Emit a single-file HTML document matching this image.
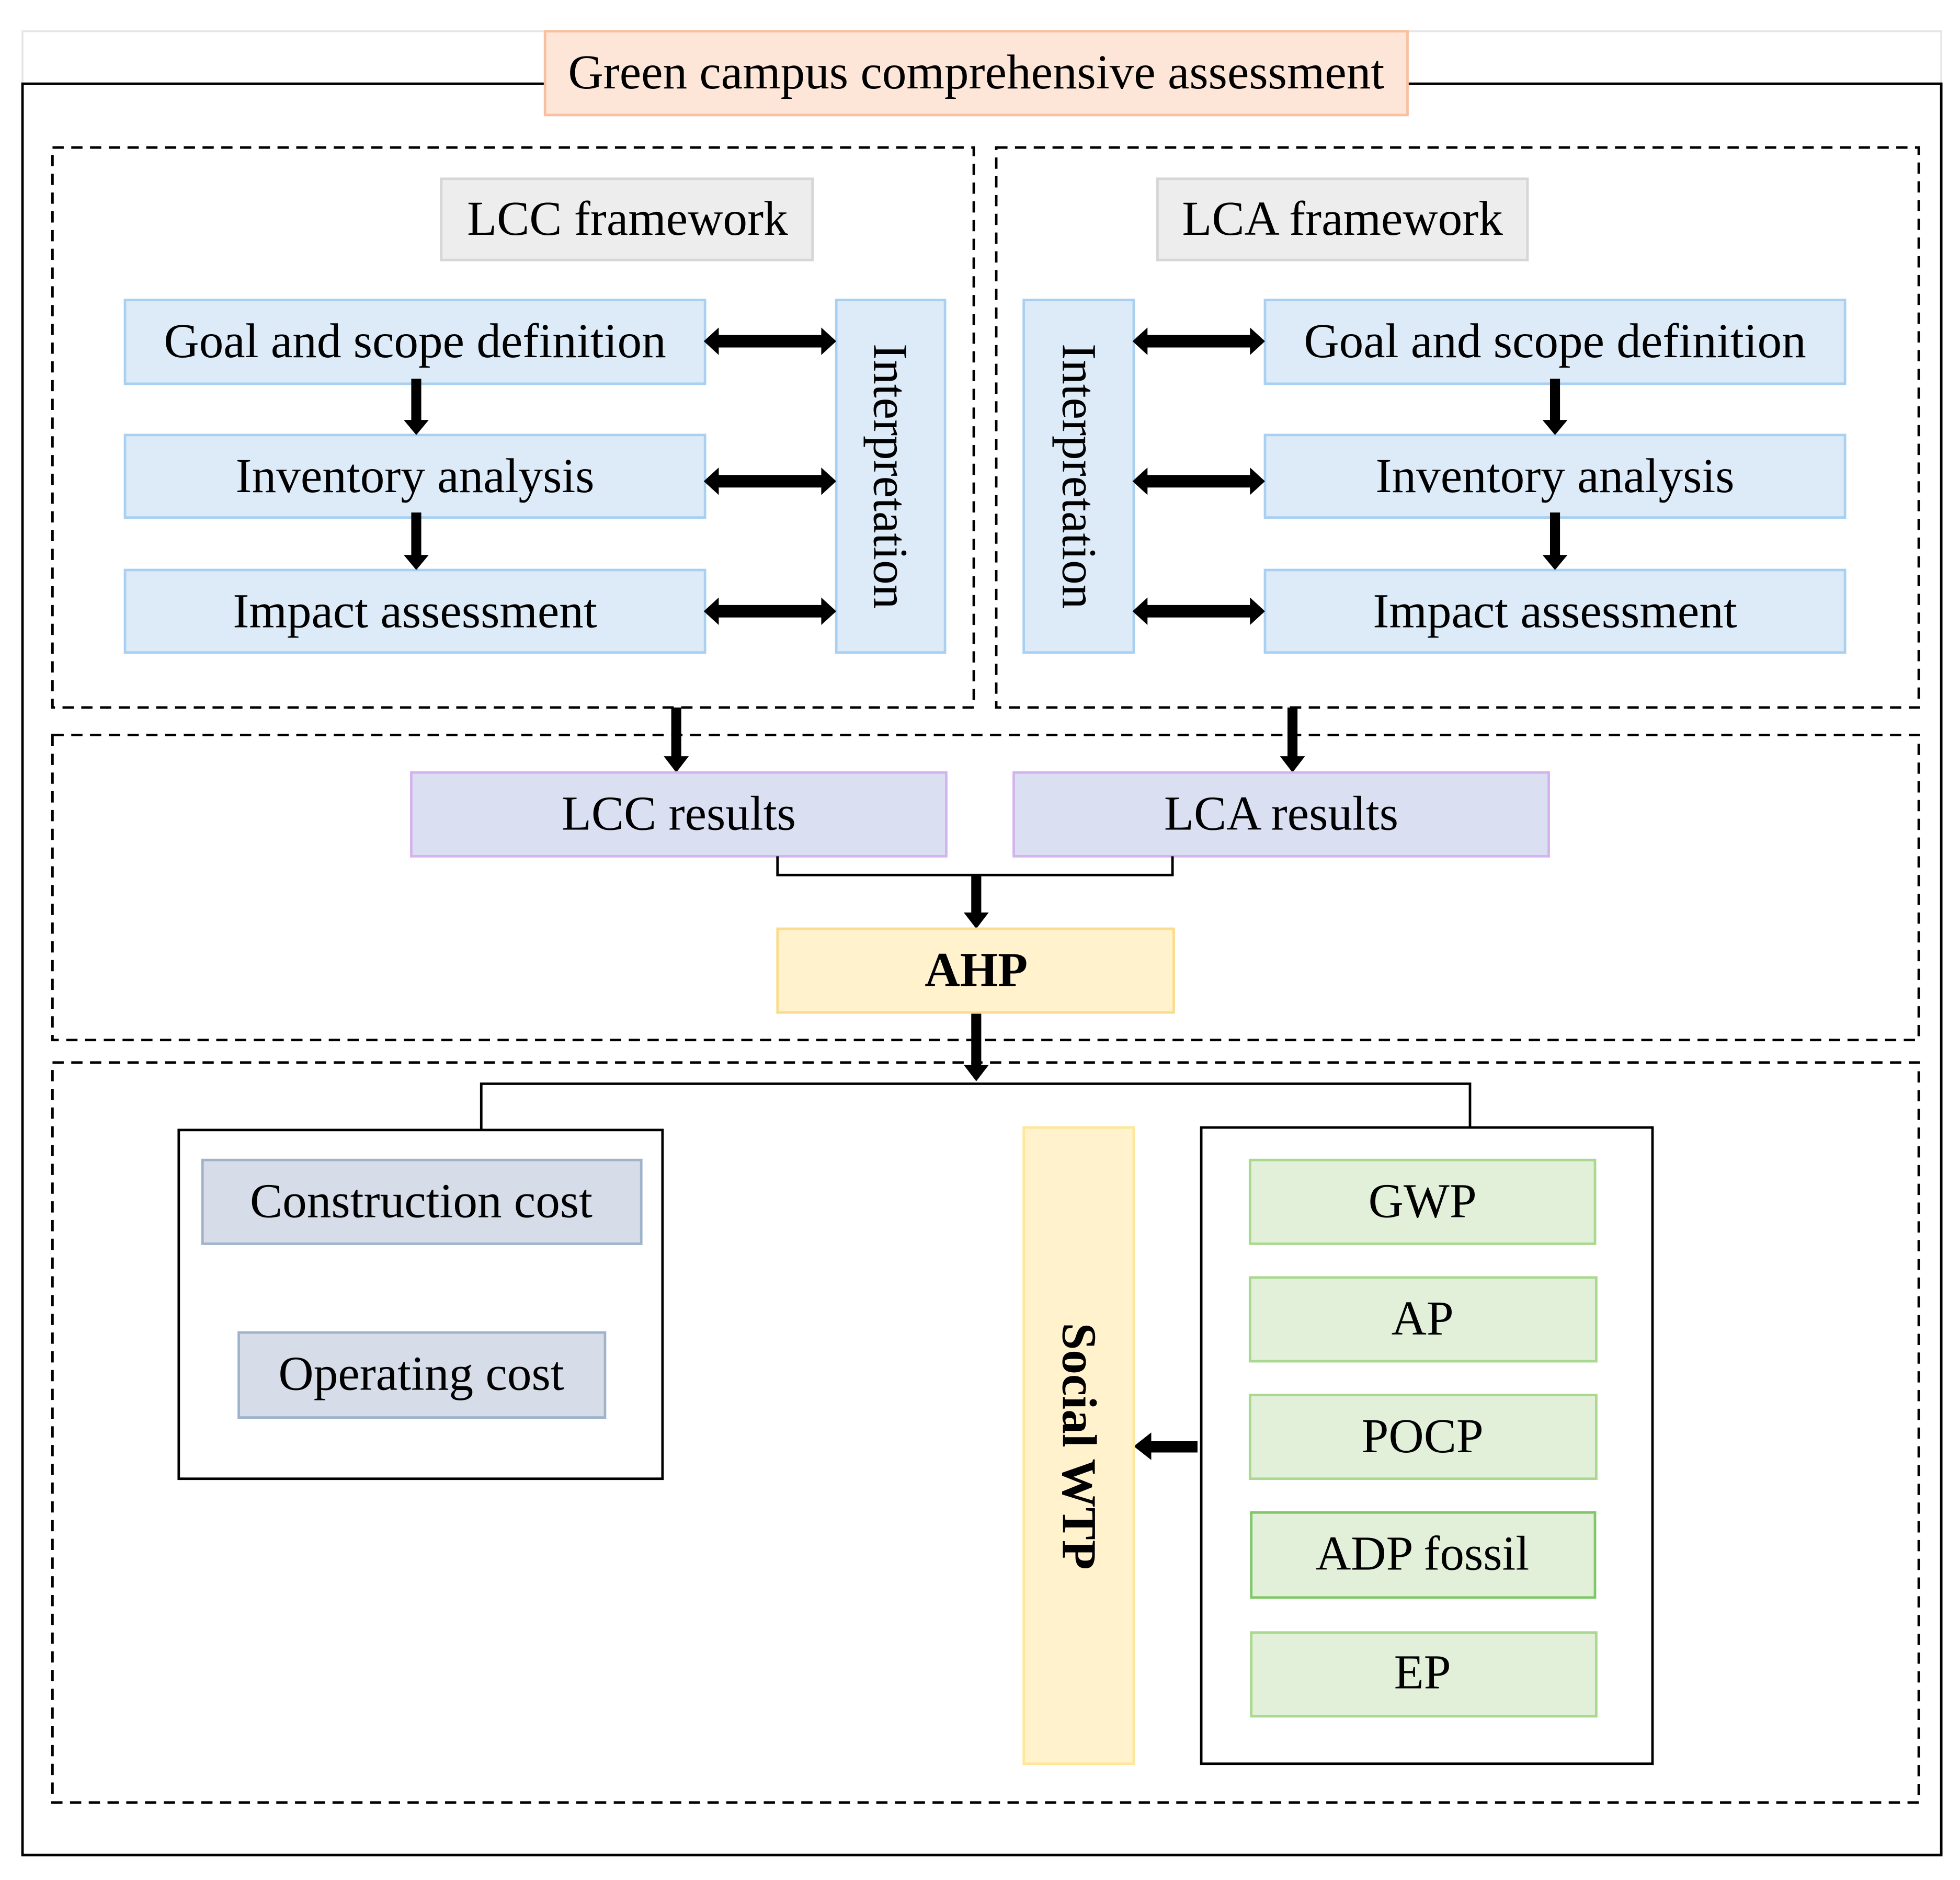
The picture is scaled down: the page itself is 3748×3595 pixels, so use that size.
<!DOCTYPE html>
<html><head><meta charset="utf-8"><style>html,body{margin:0;padding:0;background:#fff}svg{display:block}</style></head>
<body>
<svg width="3748" height="3595" viewBox="0 0 1568 1504" xmlns="http://www.w3.org/2000/svg" font-family="'Liberation Serif', serif" font-size="39" text-anchor="middle" dominant-baseline="central">
<rect width="1568" height="1504" fill="#fff"/>
<path d="M18,67 V25 H1553 V67" fill="none" stroke="#e6e6e6" stroke-width="1.5"/>
<path d="M436,67 H18 V1484 H1553 V67 H1126" fill="none" stroke="#000" stroke-width="2"/>
<rect x="436" y="25" width="690" height="67" fill="#fde6d8" stroke="#f8c0a0" stroke-width="2"/>
<text x="781" y="58">Green campus comprehensive assessment</text>
<g fill="none" stroke="#000" stroke-width="2" stroke-dasharray="9,6">
<rect x="42" y="118" width="737" height="448"/>
<rect x="797" y="118" width="738" height="448"/>
<rect x="42" y="588" width="1493" height="244"/>
<rect x="42" y="850" width="1493" height="592"/>
</g>
<rect x="353" y="143" width="297" height="65" fill="#ededed" stroke="#d6d6d6" stroke-width="2"/>
<text x="502" y="175">LCC framework</text>
<rect x="926" y="143" width="296" height="65" fill="#ededed" stroke="#d6d6d6" stroke-width="2"/>
<text x="1074" y="175">LCA framework</text>
<g fill="#dcebf7" stroke="#a9d0f0" stroke-width="2">
<rect x="100" y="240" width="464" height="67"/>
<rect x="100" y="348" width="464" height="66"/>
<rect x="100" y="456" width="464" height="66"/>
<rect x="669" y="240" width="87" height="282"/>
<rect x="1012" y="240" width="464" height="67"/>
<rect x="1012" y="348" width="464" height="66"/>
<rect x="1012" y="456" width="464" height="66"/>
<rect x="819" y="240" width="88" height="282"/>
</g>
<text x="332" y="273">Goal and scope definition</text>
<text x="332" y="381">Inventory analysis</text>
<text x="332" y="489">Impact assessment</text>
<text x="1244" y="273">Goal and scope definition</text>
<text x="1244" y="381">Inventory analysis</text>
<text x="1244" y="489">Impact assessment</text>
<text transform="translate(712,381) rotate(90)">Interpretation</text>
<text transform="translate(863,381) rotate(90)">Interpretation</text>
<g fill="#000">
<polygon points="329,303 337,303 337,336 343,336 333,348 323,336 329,336"/>
<polygon points="329,410 337,410 337,444 343,444 333,456 323,444 329,444"/>
<polygon points="1240,303 1248,303 1248,336 1254,336 1244,348 1234,336 1240,336"/>
<polygon points="1240,410 1248,410 1248,444 1254,444 1244,456 1234,444 1240,444"/>
<polygon points="563,273 575,262 575,268 657,268 657,262 669,273 657,284 657,278 575,278 575,284"/>
<polygon points="563,385 575,374 575,380 657,380 657,374 669,385 657,396 657,390 575,390 575,396"/>
<polygon points="563,489 575,478 575,484 657,484 657,478 669,489 657,500 657,494 575,494 575,500"/>
<polygon points="906,273 918,262 918,268 1000,268 1000,262 1012,273 1000,284 1000,278 918,278 918,284"/>
<polygon points="906,385 918,374 918,380 1000,380 1000,374 1012,385 1000,396 1000,390 918,390 918,396"/>
<polygon points="906,489 918,478 918,484 1000,484 1000,478 1012,489 1000,500 1000,494 918,494 918,500"/>
<polygon points="537,566 545,566 545,605 551,605 541,618 531,605 537,605"/>
<polygon points="1030,566 1038,566 1038,605 1044,605 1034,618 1024,605 1030,605"/>
<polygon points="777,700 785,700 785,730 791,730 781,743 771,730 777,730"/>
<polygon points="777,810 785,810 785,852 791,852 781,865 771,852 777,852"/>
<polygon points="958,1153 958,1162 921,1162 921,1168 907,1157 921,1146 921,1153"/>
</g>
<rect x="329" y="618" width="428" height="67" fill="#dadff2" stroke="#d4b3ee" stroke-width="2"/>
<text x="543" y="651">LCC results</text>
<rect x="811" y="618" width="428" height="67" fill="#dadff2" stroke="#d4b3ee" stroke-width="2"/>
<text x="1025" y="651">LCA results</text>
<path d="M622,685 V700 H938 V685" fill="none" stroke="#000" stroke-width="2"/>
<rect x="622" y="743" width="317" height="67" fill="#fff2cc" stroke="#f9dc8e" stroke-width="2"/>
<text x="781" y="776" font-weight="bold">AHP</text>
<path d="M385,904 V867 H1176 V902" fill="none" stroke="#000" stroke-width="2"/>
<rect x="143" y="904" width="387" height="279" fill="#fff" stroke="#000" stroke-width="2"/>
<rect x="162" y="928" width="351" height="67" fill="#d6dde8" stroke="#9fb3cb" stroke-width="2"/>
<text x="337" y="961">Construction cost</text>
<rect x="191" y="1066" width="293" height="68" fill="#d6dde8" stroke="#9fb3cb" stroke-width="2"/>
<text x="337" y="1099">Operating cost</text>
<rect x="819" y="902" width="88" height="509" fill="#fff2cc" stroke="#fde79a" stroke-width="2"/>
<text transform="translate(863,1157) rotate(90)" font-weight="bold">Social WTP</text>
<rect x="961" y="902" width="361" height="509" fill="#fff" stroke="#000" stroke-width="2"/>
<g fill="#e2f0d9" stroke="#a9d88e" stroke-width="2">
<rect x="1000" y="928" width="276" height="67"/>
<rect x="1000" y="1022" width="277" height="67"/>
<rect x="1000" y="1116" width="277" height="67"/>
<rect x="1001" y="1210" width="275" height="68" stroke="#7fc76a"/>
<rect x="1001" y="1306" width="276" height="67"/>
</g>
<text x="1138" y="961">GWP</text>
<text x="1138" y="1055">AP</text>
<text x="1138" y="1149">POCP</text>
<text x="1138" y="1243">ADP fossil</text>
<text x="1138" y="1338">EP</text>
</svg>
</body></html>
